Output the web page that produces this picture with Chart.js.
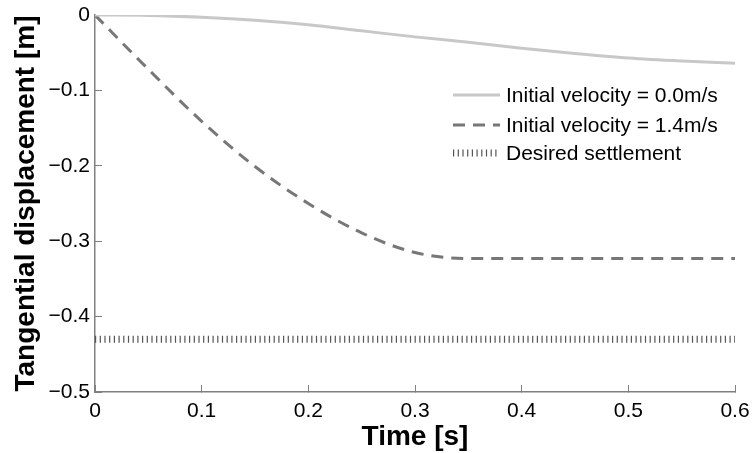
<!DOCTYPE html>
<html>
<head>
<meta charset="utf-8">
<script src="https://cdn.jsdelivr.net/npm/chart.js@4.4.1/dist/chart.umd.min.js"></script>
<style>
  html, body { margin: 0; padding: 0; background: #fff; }
  #wrap { width: 753px; height: 453px; }
</style>
</head>
<body>
<div id="wrap"><canvas id="dispChart" width="753" height="453"></canvas></div>
<script>
// time samples [s]
const timeV0 = [0, 0.05, 0.1, 0.15, 0.2, 0.25, 0.3, 0.35, 0.4, 0.45, 0.5, 0.55, 0.6];
const dispV0 = [0, -0.0005, -0.003, -0.007, -0.013, -0.021, -0.029, -0.036, -0.044, -0.051, -0.057, -0.061, -0.064];

const timeV14 = [0, 0.05, 0.1, 0.15, 0.2, 0.25, 0.3, 0.35, 0.4, 0.45, 0.5, 0.55, 0.6];
const dispV14 = [0, -0.072, -0.141, -0.201, -0.250, -0.289, -0.315, -0.323, -0.323, -0.323, -0.323, -0.323, -0.323];

const timeTarget = [0, 0.6];
const dispTarget = [-0.43, -0.43];

const xTicks = [0, 0.1, 0.2, 0.3, 0.4, 0.5, 0.6];
const yTicks = [0, -0.1, -0.2, -0.3, -0.4, -0.5];

const legendLabels = ["Initial velocity = 0.0m/s", "Initial velocity = 1.4m/s", "Desired settlement"];

function pts(xs, ys) {
  return xs.map((x, i) => ({ x: x, y: ys[i] }));
}

function fmt(v) {
  const s = String(Math.round(v * 10) / 10);
  return s.replace("-", "\u2212");
}

// legend drawn inside the plot area, like the original figure
const insideLegend = {
  id: "insideLegend",
  afterDraw(chart) {
    const ctx = chart.ctx;
    const rows = [95, 125, 153];
    ctx.save();
    chart.data.datasets.forEach(function (ds, i) {
      const y = rows[i];
      ctx.beginPath();
      ctx.strokeStyle = ds.borderColor;
      ctx.lineWidth = ds.legendWidth || ds.borderWidth;
      ctx.setLineDash(ds.borderDash || []);
      ctx.moveTo(453, y);
      ctx.lineTo(500, y);
      ctx.stroke();
      ctx.setLineDash([]);
      ctx.fillStyle = "#000";
      ctx.font = "21px 'Liberation Sans', Arial, sans-serif";
      ctx.textBaseline = "middle";
      ctx.textAlign = "left";
      ctx.fillText(legendLabels[i], 506, y + 1);
    });
    ctx.restore();
  },
};

const ctx = document.getElementById("dispChart").getContext("2d");
const dispChart = new Chart(ctx, {
  type: "line",
  data: {
    datasets: [
      {
        label: legendLabels[0],
        data: pts(timeV0, dispV0),
        borderColor: "#c8c8c8",
        borderWidth: 3,
        pointRadius: 0,
        cubicInterpolationMode: "monotone",
        fill: false,
      },
      {
        label: legendLabels[1],
        data: pts(timeV14, dispV14),
        borderColor: "#777777",
        borderWidth: 3,
        borderDash: [12, 8],
        pointRadius: 0,
        cubicInterpolationMode: "monotone",
        fill: false,
      },
      {
        label: legendLabels[2],
        data: pts(timeTarget, dispTarget),
        borderColor: "#555555",
        borderWidth: 7,
        legendWidth: 7,
        borderDash: [1.2, 3.5],
        borderCapStyle: "butt",
        pointRadius: 0,
        fill: false,
      },
    ],
  },
  options: {
    responsive: false,
    animation: false,
    layout: {
      padding: { top: 15, right: 18, left: 0, bottom: 0 },
    },
    plugins: {
      legend: { display: false },
      tooltip: { enabled: false },
    },
    scales: {
      x: {
        type: "linear",
        min: 0,
        max: 0.6,
        afterFit: function (scale) {
          scale.height = 61;
          scale.paddingLeft = 0;
          scale.paddingRight = 0;
        },
        afterBuildTicks: function (scale) {
          scale.ticks = xTicks.map((v) => ({ value: v }));
        },
        title: {
          display: true,
          text: "Time [s]",
          color: "#000",
          font: { family: "'Liberation Sans', Arial, sans-serif", size: 28, weight: "bold", lineHeight: 1 },
          padding: { top: 0, bottom: 2 },
        },
        border: { display: true, color: "#808080", width: 1.5 },
        grid: {
          drawOnChartArea: false,
          drawTicks: true,
          tickLength: -7,
          color: "#808080",
        },
        ticks: {
          color: "#000",
          padding: 14,
          maxRotation: 0,
          font: { family: "'Liberation Sans', Arial, sans-serif", size: 21 },
          callback: fmt,
        },
      },
      y: {
        type: "linear",
        min: -0.5,
        max: 0,
        afterFit: function (scale) {
          scale.width = 95;
          scale.paddingTop = 0;
          scale.paddingBottom = 0;
        },
        afterBuildTicks: function (scale) {
          scale.ticks = yTicks.map((v) => ({ value: v }));
        },
        title: {
          display: true,
          text: "Tangential displacement [m]",
          color: "#000",
          font: { family: "'Liberation Sans', Arial, sans-serif", size: 28, weight: "bold", lineHeight: 1 },
          padding: { top: 12, bottom: 0 },
        },
        border: { display: true, color: "#808080", width: 1.5 },
        grid: {
          drawOnChartArea: false,
          drawTicks: true,
          tickLength: -7,
          color: "#808080",
        },
        ticks: {
          color: "#000",
          padding: 12,
          font: { family: "'Liberation Sans', Arial, sans-serif", size: 21 },
          callback: fmt,
        },
      },
    },
  },
  plugins: [insideLegend],
});
</script>
</body>
</html>
